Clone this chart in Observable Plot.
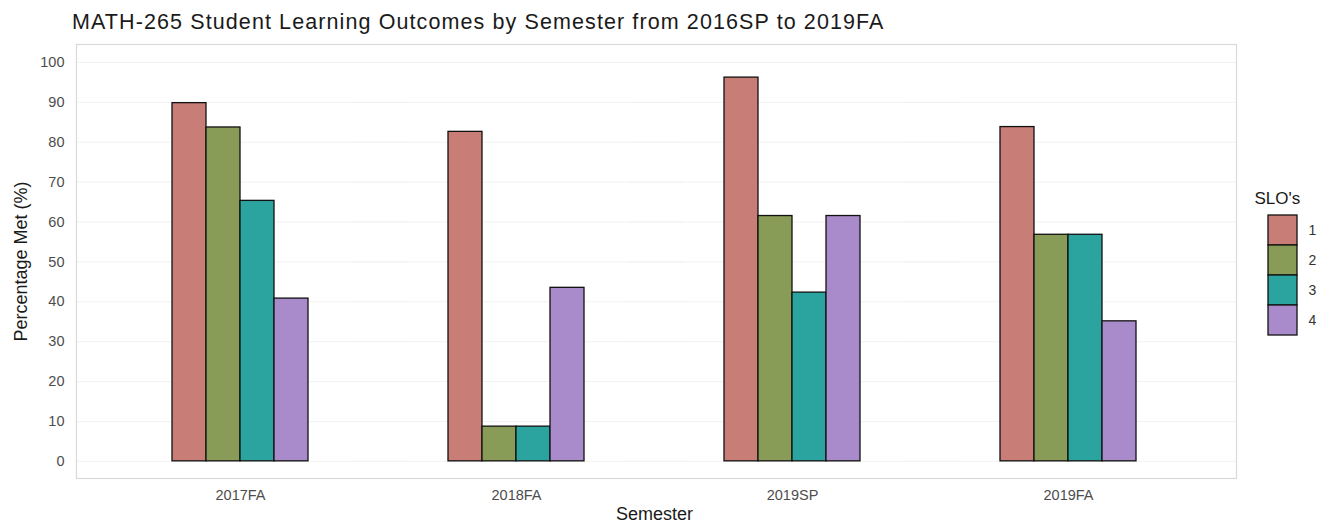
<!DOCTYPE html>
<html>
<head>
<meta charset="utf-8">
<script src="https://cdn.jsdelivr.net/npm/d3@7"></script>
<script src="https://cdn.jsdelivr.net/npm/@observablehq/plot@0.6"></script>
<style>
  html, body { margin: 0; padding: 0; background: #fff; }
  #wrap { position: relative; width: 1331px; height: 527px; overflow: hidden; font-family: "Liberation Sans", Arial, sans-serif; }
  #title { position: absolute; left: 72px; top: 9px; font-size: 21.5px; letter-spacing: 1.1px; line-height: 26px; color: #1a1a1a; white-space: nowrap; }
  #main { position: absolute; left: 0; top: 0; }
  #legend { position: absolute; left: 1240px; top: 180px; }
</style>
</head>
<body>
<div id="wrap">
  <div id="title">MATH-265 Student Learning Outcomes by Semester from 2016SP to 2019FA</div>
  <div id="main"></div>
  <div id="legend"></div>
</div>
<script>
const semesters = ["2017FA", "2018FA", "2019SP", "2019FA"];
const slos = ["1", "2", "3", "4"];
const slo1 = [89.8, 82.6, 96.2, 83.8];
const slo2 = [83.7, 8.7, 61.5, 56.8];
const slo3 = [65.3, 8.7, 42.3, 56.8];
const slo4 = [40.8, 43.5, 61.5, 35.1];
const yTicks = [0, 10, 20, 30, 40, 50, 60, 70, 80, 90, 100];
const sloColors = ["#c97d77", "#889b57", "#2ba39e", "#a98bcb"];

const series = [slo1, slo2, slo3, slo4];
const data = [];
semesters.forEach((s, i) => slos.forEach((k, j) => data.push({semester: s, slo: k, value: series[j][i]})));

const font = "'Liberation Sans', Arial, sans-serif";

const main = Plot.plot({
  width: 1245,
  height: 527,
  marginLeft: 101,
  marginRight: 38,
  marginTop: 44,
  marginBottom: 49,
  style: {fontFamily: font, fontSize: "14px", background: "transparent", overflow: "visible"},
  fx: {domain: semesters, padding: 0, label: null},
  x: {domain: slos, paddingInner: 0, paddingOuter: 2, axis: null},
  y: {domain: [-4.3, 104.5], label: null},
  color: {domain: slos, range: sloColors},
  marks: [
    Plot.gridY(yTicks, {stroke: "#f2f2f2", strokeOpacity: 1, strokeWidth: 1, insetLeft: -26, insetRight: -30}),
    Plot.frame({facet: "super", stroke: "#d9d9d9", strokeWidth: 1.2, insetLeft: -26, insetRight: -30}),
    Plot.axisY({ticks: yTicks, tickSize: 0, tickPadding: 38, fill: "#4d4d4d", fontSize: 14.5, label: null}),
    Plot.axisFx({anchor: "bottom", tickSize: 0, tickPadding: 11, fill: "#4d4d4d", fontSize: 14.5, label: null}),
    Plot.text(["Percentage Met (%)"], {facet: "super", frameAnchor: "left", textAnchor: "middle", rotate: -90, dx: -81, fontSize: 18, fill: "#1a1a1a", style: "letter-spacing: 0.6px"}),
    Plot.text(["Semester"], {facet: "super", frameAnchor: "bottom", dy: 41, fontSize: 18, fill: "#1a1a1a"}),
    Plot.barY(data, {fx: "semester", x: "slo", y: "value", fill: "slo", stroke: "#111", strokeWidth: 1.3})
  ]
});
document.getElementById("main").appendChild(main);

const legend = Plot.plot({
  width: 91,
  height: 170,
  marginLeft: 28,
  marginRight: 34,
  marginTop: 34,
  marginBottom: 14,
  style: {fontFamily: font, fontSize: "13px", background: "transparent", overflow: "visible"},
  x: {axis: null},
  y: {domain: slos, padding: 0, axis: null},
  color: {domain: slos, range: sloColors},
  marks: [
    Plot.cell(slos, {y: d => d, fill: d => d, stroke: "#111", strokeWidth: 1.3}),
    Plot.text(slos, {y: d => d, text: d => d, frameAnchor: "right", textAnchor: "start", dx: 11, fontSize: 14, fill: "#333"}),
    Plot.text(["SLO's"], {frameAnchor: "top-left", textAnchor: "start", dx: -14, dy: -23, fontSize: 17, fill: "#1a1a1a"})
  ]
});
document.getElementById("legend").appendChild(legend);
</script>
</body>
</html>
